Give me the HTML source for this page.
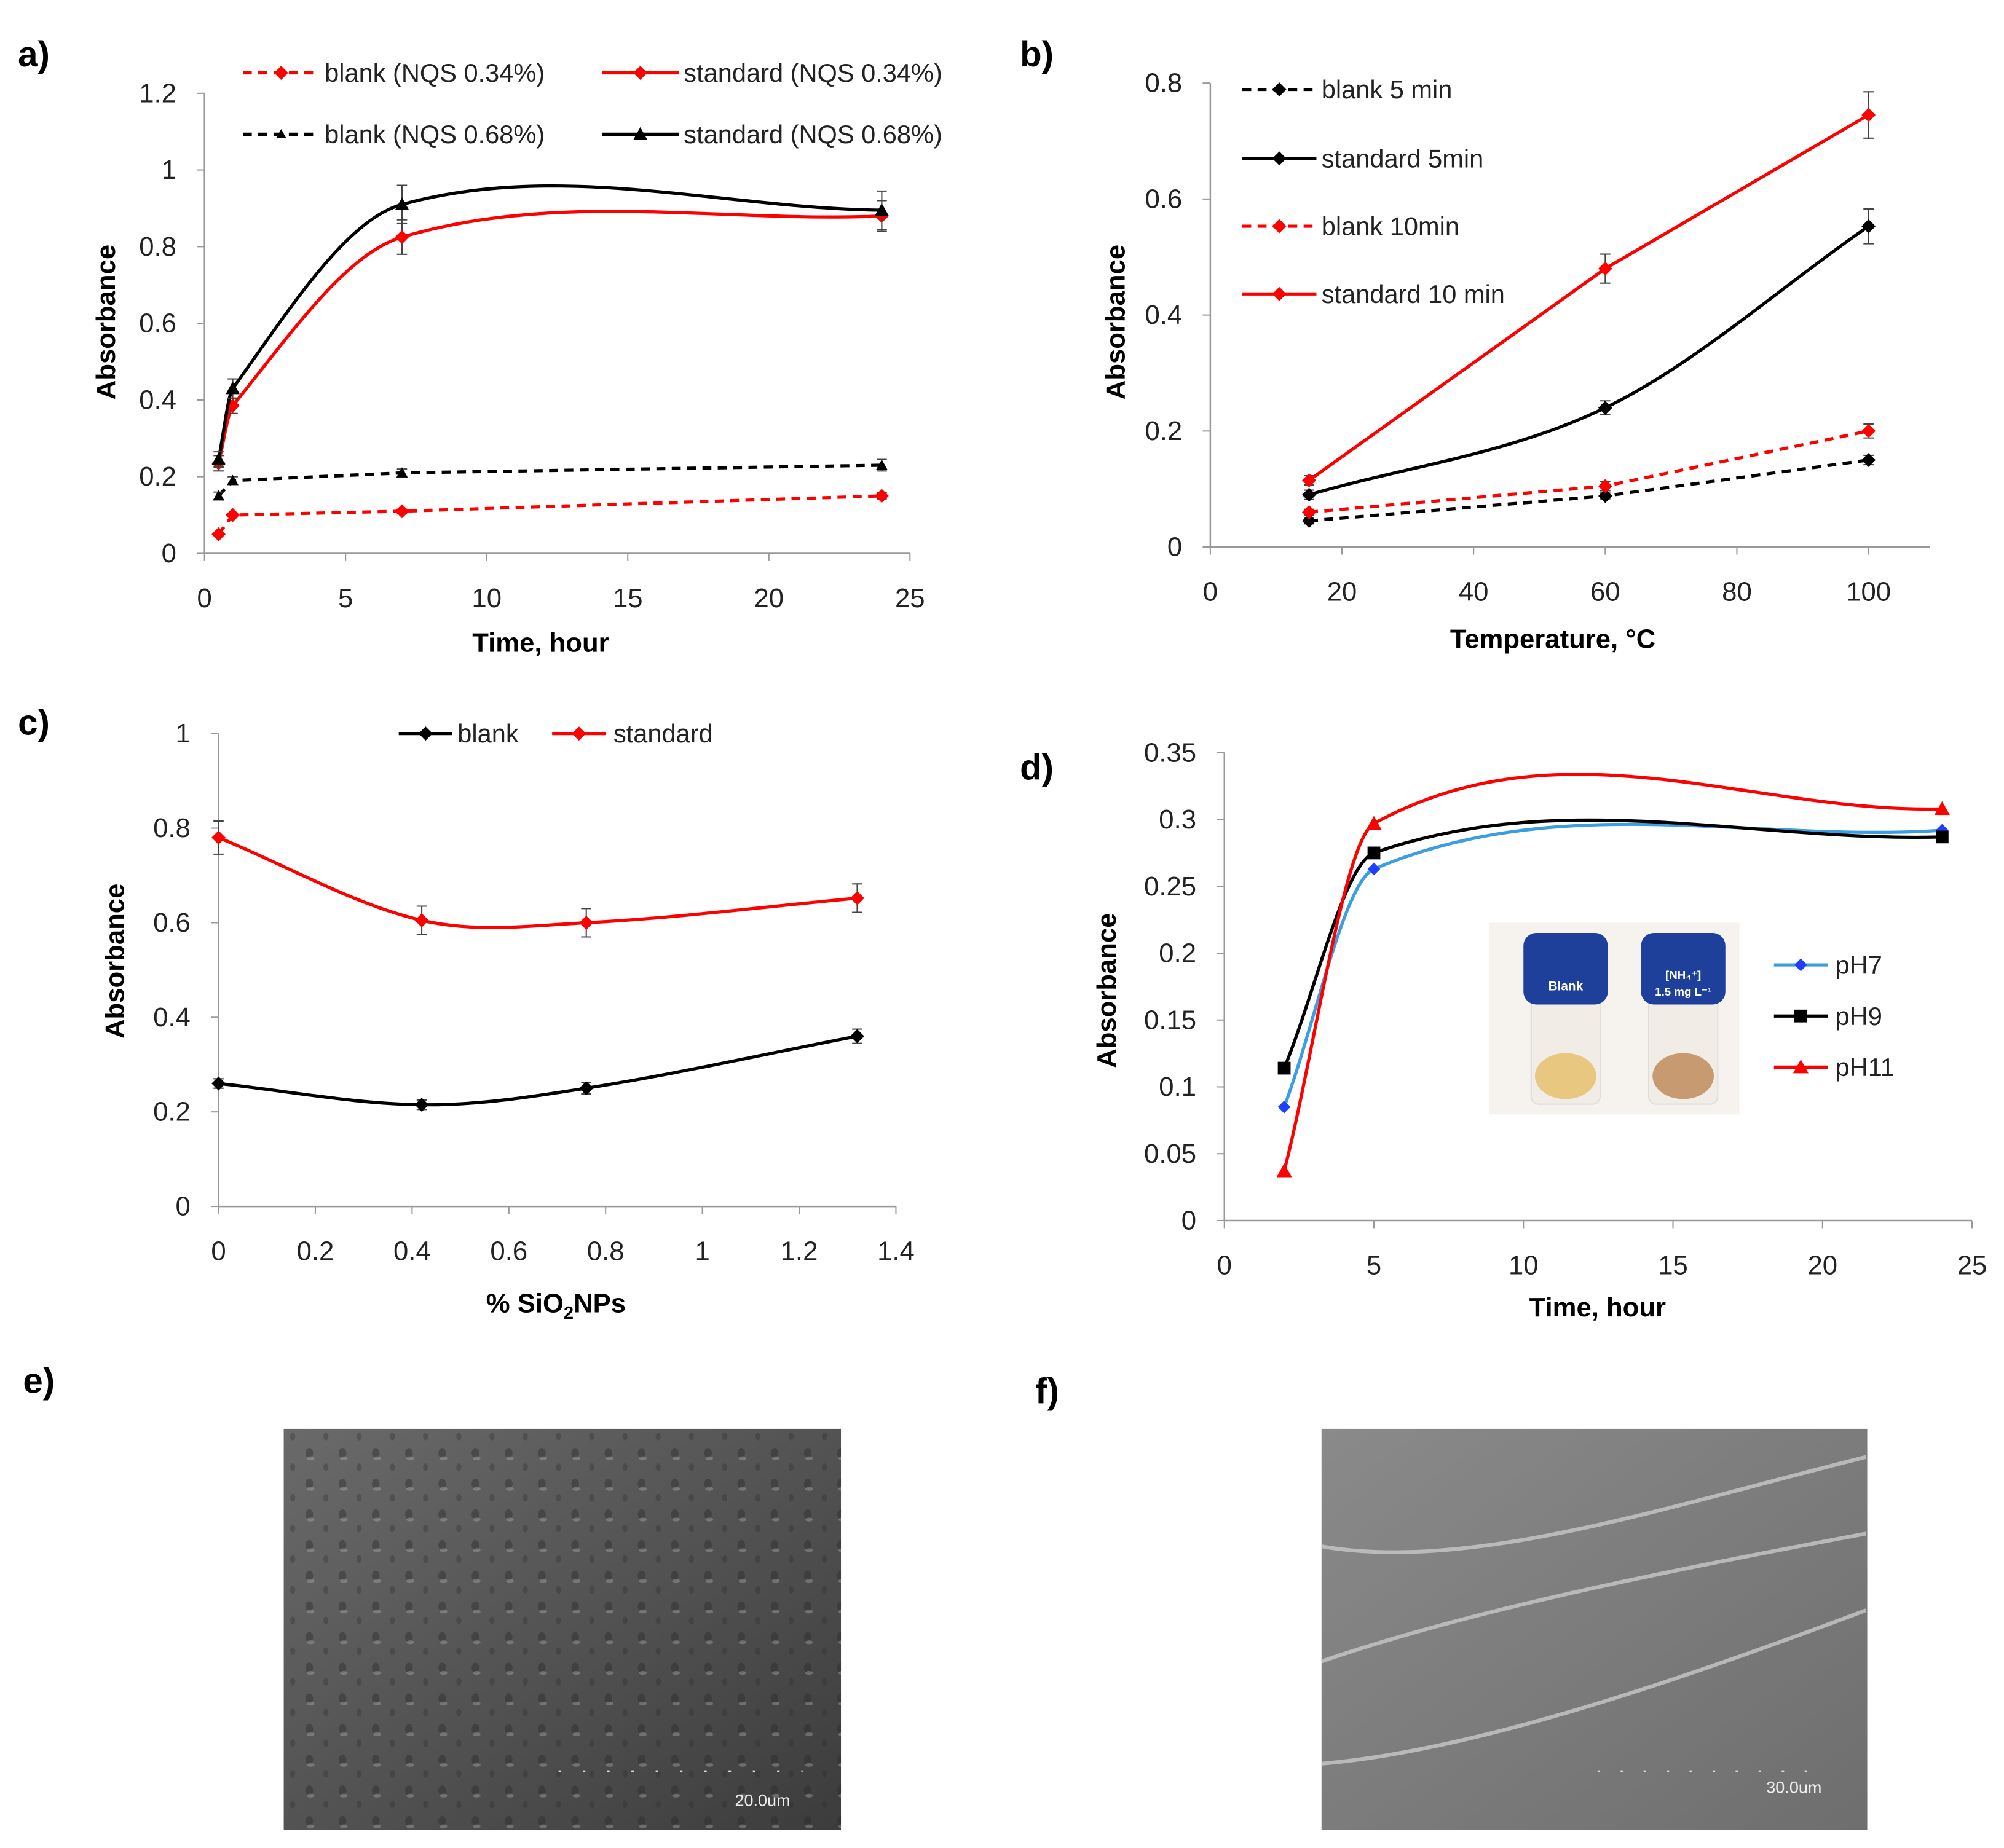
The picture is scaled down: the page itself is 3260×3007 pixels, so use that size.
<!DOCTYPE html>
<html><head><meta charset="utf-8"><style>
html,body{margin:0;padding:0;background:#fff}
svg{display:block}
text{font-family:"Liberation Sans",sans-serif}
</style></head><body>
<svg id="fig" width="3260" height="3007" viewBox="0 0 1568 1446" preserveAspectRatio="none" xmlns="http://www.w3.org/2000/svg">
<defs>
<linearGradient id="ge" x1="0" y1="0" x2="1" y2="1"><stop offset="0" stop-color="#6a6a6a"/><stop offset="1" stop-color="#3c3c3c"/></linearGradient>
<linearGradient id="gf" x1="0" y1="0" x2="1" y2="1"><stop offset="0" stop-color="#8a8a8a"/><stop offset="1" stop-color="#6e6e6e"/></linearGradient>
<pattern id="pits" width="26" height="24" patternUnits="userSpaceOnUse">
<ellipse cx="8" cy="9" rx="3" ry="4" fill="#2a2a2a" opacity="0.6"/>
<ellipse cx="9" cy="13" rx="3" ry="1.5" fill="#bbb" opacity="0.5"/>
<ellipse cx="21" cy="20" rx="2" ry="3" fill="#2a2a2a" opacity="0.45"/>
</pattern>
</defs>
<g id="root"></g>
<text x="18" y="1090" font-size="28" font-weight="bold">e)</text>
<rect x="222" y="1118" width="436" height="314" fill="url(#ge)"/>
<rect x="222" y="1118" width="436" height="314" fill="url(#pits)" opacity="0.7"/>
<g stroke="#ddd" stroke-width="1.5">
<line x1="437" y1="1386" x2="628" y2="1386" stroke-dasharray="2 17"/>
</g>
<text x="575" y="1413" font-size="13" fill="#eee">20.0um</text>
<text x="810" y="1098" font-size="28" font-weight="bold">f)</text>
<rect x="1034" y="1118" width="427" height="314" fill="url(#gf)"/>
<g fill="none" stroke="#c8c8c8" stroke-width="3" opacity="0.8">
<path d="M1034 1210 C1150 1230 1300 1180 1460 1140"/>
<path d="M1034 1300 C1150 1260 1300 1230 1460 1200"/>
<path d="M1034 1380 C1150 1370 1300 1320 1460 1260"/>
</g>
<line x1="1250" y1="1386" x2="1428" y2="1386" stroke="#ddd" stroke-width="1.5" stroke-dasharray="2 16"/>
<text x="1382" y="1403" font-size="13" fill="#eee">30.0um</text>
<g>
<rect x="1165" y="722" width="196" height="150" fill="#f6f3ef"/>
<rect x="1198" y="780" width="54" height="84" rx="6" fill="#f1ede6" stroke="#ddd"/>
<ellipse cx="1225" cy="842" rx="24" ry="18" fill="#e8c781"/>
<rect x="1192" y="730" width="66" height="56" rx="10" fill="#1e3f9a"/>
<text x="1225" y="775" font-size="10" font-weight="bold" fill="#fff" text-anchor="middle">Blank</text>
<rect x="1290" y="780" width="54" height="84" rx="6" fill="#f1ede6" stroke="#ddd"/>
<ellipse cx="1317" cy="842" rx="24" ry="18" fill="#c79a72"/>
<rect x="1284" y="730" width="66" height="56" rx="10" fill="#1e3f9a"/>
<text x="1317" y="766" font-size="9" font-weight="bold" fill="#fff" text-anchor="middle">[NH₄⁺]</text>
<text x="1317" y="779" font-size="9" font-weight="bold" fill="#fff" text-anchor="middle">1.5 mg L⁻¹</text>
</g>
</svg>
<script>
const aX=[0.5,1,7,24];
const aStd68=[0.245,0.43,0.91,0.895];
const aStd34=[0.235,0.385,0.825,0.88];
const aBlank68=[0.15,0.19,0.21,0.23];
const aBlank34=[0.05,0.1,0.11,0.15];
const aXTicks=[0,5,10,15,20,25];
const aYTicks=[0,0.2,0.4,0.6,0.8,1,1.2];

const bX=[15,60,100];
const bStd10=[0.115,0.48,0.745];
const bStd5=[0.09,0.24,0.553];
const bBlank10=[0.06,0.105,0.2];
const bBlank5=[0.045,0.088,0.15];
const bXTicks=[0,20,40,60,80,100];
const bYTicks=[0,0.2,0.4,0.6,0.8];

const cX=[0,0.42,0.76,1.32];
const cStd=[0.78,0.605,0.6,0.652];
const cBlank=[0.26,0.215,0.25,0.36];
const cXTicks=[0,0.2,0.4,0.6,0.8,1,1.2,1.4];
const cYTicks=[0,0.2,0.4,0.6,0.8,1];

const dX=[2,5,24];
const dPH7=[0.085,0.263,0.292];
const dPH9=[0.114,0.275,0.287];
const dPH11=[0.037,0.297,0.308];
const dXTicks=[0,5,10,15,20,25];
const dYTicks=[0,0.05,0.1,0.15,0.2,0.25,0.3,0.35];

const NS="http://www.w3.org/2000/svg";
const root=document.getElementById('root');
function mk(tag,attrs,parent){const e=document.createElementNS(NS,tag);for(const k in attrs)e.setAttribute(k,attrs[k]);(parent||root).appendChild(e);return e;}
function lin(d0,d1,p0,p1){return v=>p0+(v-d0)/(d1-d0)*(p1-p0);}
function pathFor(pts,smooth){
  if(!smooth)return 'M'+pts.map(p=>p[0]+' '+p[1]).join(' L');
  const n=pts.length, m=[];
  for(let i=0;i<n;i++){
    const a=pts[Math.max(0,i-1)], b=pts[Math.min(n-1,i+1)];
    m.push((b[1]-a[1])/(b[0]-a[0]));
  }
  let d='M'+pts[0][0]+' '+pts[0][1];
  for(let i=0;i<n-1;i++){
    const p1=pts[i],p2=pts[i+1],h=(p2[0]-p1[0])/3;
    d+=` C${p1[0]+h} ${p1[1]+m[i]*h} ${p2[0]-h} ${p2[1]-m[i+1]*h} ${p2[0]} ${p2[1]}`;
  }
  return d;
}
function marker(g,x,y,shape,color,s){
  if(shape==='diamond')return mk('path',{d:`M${x} ${y-s} L${x+s} ${y} L${x} ${y+s} L${x-s} ${y} Z`,fill:color},g);
  if(shape==='tri')return mk('path',{d:`M${x} ${y-s} L${x+s} ${y+s*0.8} L${x-s} ${y+s*0.8} Z`,fill:color},g);
  if(shape==='square')return mk('rect',{x:x-s,y:y-s,width:2*s,height:2*s,fill:color},g);
}
function axes(p){
  const g=mk('g',{});
  
  
  mk('line',{x1:p.x0,y1:p.y0,x2:p.x0,y2:p.y1,stroke:'#999','stroke-width':1.2},g);
  mk('line',{x1:p.x0,y1:p.y0,x2:p.x1,y2:p.y0,stroke:'#999','stroke-width':1.2},g);
  p.xt.forEach(v=>{const x=p.sx(v);mk('line',{x1:x,y1:p.y0,x2:x,y2:p.y0+6,stroke:'#999'},g);
    const t=mk('text',{x:x,y:p.y0+42,'font-size':21,'text-anchor':'middle',fill:'#222'},g);t.textContent=String(v);
    
    });
  p.yt.forEach(v=>{const y=p.sy(v);mk('line',{x1:p.x0-6,y1:y,x2:p.x0,y2:y,stroke:'#999'},g);
    const t=mk('text',{x:p.x0-22,y:y+7,'font-size':21,'text-anchor':'end',fill:'#222'},g);t.textContent=String(v);
    
    });
  const yl=mk('text',{x:0,y:0,'font-size':21,'font-weight':'bold','text-anchor':'middle',transform:`translate(${p.ylx},${p.yly}) rotate(-90)`},g);
  yl.textContent='Absorbance';
  
  
  const xl=mk('text',{x:p.xlx,y:p.xly,'font-size':21,'font-weight':'bold','text-anchor':'middle'},g);
  xl.innerHTML=p.xlabel;
  
  
  const pl=mk('text',{x:p.plx,y:p.ply,'font-size':28,'font-weight':'bold'},g);
  pl.textContent=p.id.slice(-1)+')';
  
  
}
function series(p,xs,ys,o){
  const g=mk('g',{});
  
  
  const pts=xs.map((x,i)=>[p.sx(x),p.sy(ys[i])]);
  const ln=mk('path',{d:pathFor(pts,o.smooth),fill:'none',stroke:o.color,'stroke-width':o.w||2.5,'stroke-dasharray':o.dash?'7 5':'none'},g);
  
  
  pts.forEach((pt,i)=>{
    if(o.err){const e=o.err[i]*(p.sy(0)-p.sy(1));
      mk('path',{d:`M${pt[0]} ${pt[1]-e}V${pt[1]+e}M${pt[0]-4} ${pt[1]-e}H${pt[0]+4}M${pt[0]-4} ${pt[1]+e}H${pt[0]+4}`,stroke:'#444','stroke-width':1,fill:'none'},g);}
    const m=marker(g,pt[0],pt[1],o.shape,o.mcolor||o.color,o.ms||5.5);
    
    
  });
}
function legend(x,y,len,label,o,tx){
  const g=mk('g',{});
  
  
  mk('line',{x1:x,y1:y,x2:x+len,y2:y,stroke:o.color,'stroke-width':o.w||2.5,'stroke-dasharray':o.dash?'7 5':'none'},g);
  marker(g,x+len/2,y,o.shape,o.mcolor||o.color,o.ms||5.5);
  const t=mk('text',{x:tx||x+len+4,y:y+7,'font-size':20,fill:'#222'},g);t.textContent=label;
}

const pa={id:'panel-a',x0:160,x1:712,y0:433,y1:73,xt:aXTicks,yt:aYTicks,ylx:90,yly:252,xlx:423,xly:510,plx:14,ply:52,xlabel:'Time, hour'};
pa.sx=lin(0,25,160,712);pa.sy=lin(0,1.2,433,73);
axes(pa);
series(pa,aX,aBlank34,{name:'blank-nqs-034',color:'#f00',dash:true,shape:'diamond',err:[0,0.005,0.005,0.008]});
series(pa,aX,aBlank68,{name:'blank-nqs-068',color:'#000',dash:true,shape:'tri',ms:4.5,err:[0.01,0.01,0.01,0.015]});
series(pa,aX,aStd34,{name:'standard-nqs-034',color:'#f00',smooth:true,shape:'diamond',err:[0.02,0.02,0.045,0.04]});
series(pa,aX,aStd68,{name:'standard-nqs-068',color:'#000',smooth:true,shape:'tri',err:[0.02,0.025,0.05,0.05]});
legend(190,57,60,'blank (NQS 0.34%)',{color:'#f00',dash:true,shape:'diamond'});
legend(471,57,60,'standard (NQS 0.34%)',{color:'#f00',shape:'diamond'});
legend(190,105,60,'blank (NQS 0.68%)',{color:'#000',dash:true,shape:'tri',ms:4});
legend(471,105,60,'standard (NQS 0.68%)',{color:'#000',shape:'tri'});

const pb={id:'panel-b',x0:947,x1:1510,y0:428,y1:65,xt:bXTicks,yt:bYTicks,ylx:880,yly:252,xlx:1215,xly:507,plx:798,ply:52,xlabel:'Temperature, °C'};
pb.sx=lin(0,100,947,1462);pb.sy=lin(0,0.8,428,65);
axes(pb);
series(pb,bX,bBlank5,{name:'blank-5-min',color:'#000',dash:true,shape:'diamond',err:[0.005,0.005,0.008]});
series(pb,bX,bBlank10,{name:'blank-10-min',color:'#f00',dash:true,shape:'diamond',err:[0.005,0.008,0.012]});
series(pb,bX,bStd5,{name:'standard-5-min',color:'#000',smooth:true,shape:'diamond',err:[0.008,0.012,0.03]});
series(pb,bX,bStd10,{name:'standard-10-min',color:'#f00',shape:'diamond',err:[0.008,0.025,0.04]});
legend(972,70,58,'blank 5 min',{color:'#000',dash:true,shape:'diamond'});
legend(972,124,58,'standard 5min',{color:'#000',shape:'diamond'});
legend(972,177,58,'blank 10min',{color:'#f00',dash:true,shape:'diamond'});
legend(972,230,58,'standard 10 min',{color:'#f00',shape:'diamond'});

const pc={id:'panel-c',x0:171,x1:701,y0:944,y1:574,xt:cXTicks,yt:cYTicks,ylx:97,yly:752,xlx:435,xly:1027,plx:14,ply:575,xlabel:'% SiO<tspan font-size="14" dy="5">2</tspan><tspan dy="-5">NPs</tspan>'};
pc.sx=lin(0,1.4,171,701);pc.sy=lin(0,1,944,574);
axes(pc);
series(pc,cX,cStd,{name:'standard',color:'#f00',smooth:true,shape:'diamond',err:[0.035,0.03,0.03,0.03]});
series(pc,cX,cBlank,{name:'blank',color:'#000',smooth:true,shape:'diamond',err:[0.01,0.01,0.012,0.015]});
legend(312,574,42,'blank',{color:'#000',shape:'diamond'},358);
legend(432,574,42,'standard',{color:'#f00',shape:'diamond'},480);

const pd={id:'panel-d',x0:958,x1:1543,y0:955,y1:589,xt:dXTicks,yt:dYTicks,ylx:873,yly:775,xlx:1250,xly:1030,plx:798,ply:610,xlabel:'Time, hour'};
pd.sx=lin(0,25,958,1543);pd.sy=lin(0,0.35,955,589);
axes(pd);
series(pd,dX,dPH7,{name:'ph7',color:'#3a9ee0',smooth:true,shape:'diamond',mcolor:'#1f3fff',ms:5});
series(pd,dX,dPH9,{name:'ph9',color:'#000',smooth:true,shape:'square',ms:5});
series(pd,dX,dPH11,{name:'ph11',color:'#f00',smooth:true,shape:'tri',ms:6});
legend(1388,755,42,'pH7',{color:'#3a9ee0',shape:'diamond',mcolor:'#1f3fff',ms:5},1436);
legend(1388,795,42,'pH9',{color:'#000',shape:'square',ms:5},1436);
legend(1388,835,42,'pH11',{color:'#f00',shape:'tri',ms:6},1436);
</script>
</body></html>
